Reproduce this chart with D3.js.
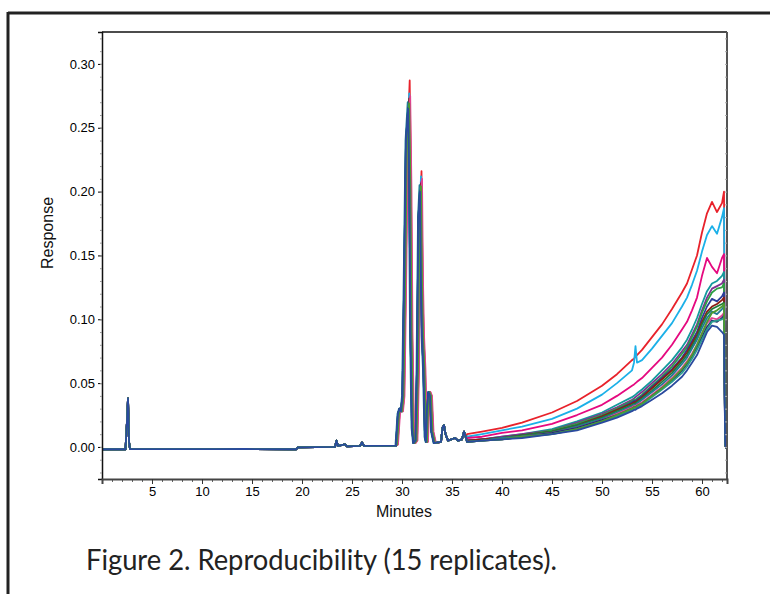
<!DOCTYPE html>
<html>
<head>
  <meta charset="utf-8">
  <title>Figure 2. Reproducibility (15 replicates)</title>
  <style>
    body { margin: 0; background: #fff; }
    svg { display: block; }
  </style>
</head>
<body>
<script src="https://cdn.jsdelivr.net/npm/d3@7"></script>
<script>
// ---- data (minutes, response) ----
var replicates = ["R1","R2","R3","R4","R5","R6","R7","R8","R9","R10","R11","R12","R13","R14","R15"];
var colors = ["#e8222b","#1bb0e8","#e5097f","#139a9c","#7e3191","#2ea043","#2b3d9a","#8c1c13",
              "#1f7a3a","#1f7c95","#e0428f","#25336f","#2a9d8f","#4e9a2f","#2a4a9e"];

// shared early baseline (before the main peak group)
var baselinePoints = [[0,-0.0018],[2.35,-0.0018],[2.5,0.02],[2.6,0.038],[2.7,0.004],[2.8,-0.0016],
  [11.5,-0.0017],[14.3,-0.0016],[19.4,-0.0018],[19.6,-0.0003],[23.3,0.0],[23.45,0.005],[23.6,0.0008],
  [24.3,0.002],[24.5,0.0005],[25.8,0.0008],[26.0,0.0035],[26.2,0.0008],[29.4,0.001]];

// peak group 29.5 - 36.4 ; "p1" and "p2" are the two big apexes (per replicate)
var peakPoints = [[29.5,0.002],[29.7,0.026],[29.85,0.03],[30.0,0.028],[30.15,0.04],[30.3,0.12],[30.5,0.24],
  [30.72,"p1"],[30.85,0.2],[30.95,0.09],[31.1,0.015],[31.25,0.003],
  [31.45,0.005],[31.6,0.06],[31.75,0.18],[31.9,"p2"],[32.0,0.13],[32.1,0.088],[32.25,0.06],[32.4,0.008],[32.5,0.004],
  [32.6,0.03],[32.75,0.043],[32.9,0.04],[33.05,0.012],[33.3,0.003],
  [33.9,0.004],[34.05,0.015],[34.2,0.017],[34.35,0.01],[34.6,0.005],[35.3,0.007],[35.6,0.005],
  [36.0,0.006],[36.2,0.012],[36.4,0.007]];

var apex1 = [0.287,0.277,0.272,0.268,0.270,0.266,0.265,0.273,0.268,0.270,0.275,0.266,0.267,0.269,0.265];
var apex2 = [0.216,0.212,0.208,0.205,0.207,0.203,0.202,0.206,0.204,0.205,0.210,0.201,0.203,0.204,0.200];
var rtShift = [0.05,0.0,0.05,-0.05,0.0,-0.1,-0.1,0.0,-0.05,-0.15,0.1,-0.1,-0.05,0.0,-0.1];

// gradient drift, one row per replicate at these times
var driftTimes = [36.5,38,40,42,45,47.5,50,51.5,53,53.2,53.35,53.5,54,55,56,57,58,58.5,59,59.5,60,60.5,61,61.5,62,62.2];
var drift = [
  [0.010,0.012,0.015,0.019,0.027,0.036,0.048,0.057,0.068,0.069,0.071,0.072,0.076,0.086,0.096,0.108,0.121,0.128,0.139,0.150,0.168,0.183,0.192,0.184,0.191,0.200],
  [0.008,0.010,0.013,0.016,0.022,0.030,0.041,0.050,0.060,0.066,0.079,0.066,0.068,0.077,0.087,0.097,0.110,0.117,0.127,0.138,0.153,0.166,0.173,0.167,0.180,0.187],
  [0.007,0.008,0.011,0.013,0.018,0.025,0.033,0.040,0.048,0.049,0.050,0.051,0.054,0.062,0.070,0.080,0.092,0.098,0.107,0.117,0.134,0.148,0.141,0.136,0.148,0.151],
  [0.005,0.006,0.008,0.010,0.014,0.020,0.027,0.033,0.039,0.040,0.041,0.042,0.045,0.052,0.060,0.068,0.078,0.084,0.092,0.101,0.112,0.122,0.128,0.130,0.134,0.137],
  [0.005,0.006,0.008,0.010,0.013,0.019,0.026,0.031,0.037,0.038,0.039,0.040,0.043,0.050,0.057,0.065,0.075,0.080,0.088,0.096,0.107,0.117,0.124,0.126,0.128,0.131],
  [0.005,0.006,0.007,0.009,0.013,0.018,0.025,0.030,0.036,0.037,0.037,0.038,0.041,0.048,0.055,0.063,0.073,0.078,0.086,0.094,0.105,0.114,0.121,0.124,0.125,0.128],
  [0.005,0.006,0.007,0.009,0.012,0.017,0.024,0.029,0.035,0.036,0.036,0.037,0.040,0.047,0.054,0.061,0.070,0.076,0.083,0.090,0.101,0.110,0.116,0.114,0.118,0.121],
  [0.005,0.006,0.007,0.009,0.012,0.017,0.024,0.029,0.034,0.035,0.035,0.036,0.039,0.046,0.053,0.060,0.069,0.074,0.081,0.088,0.098,0.106,0.110,0.112,0.115,0.117],
  [0.004,0.005,0.007,0.009,0.012,0.017,0.023,0.028,0.033,0.034,0.034,0.035,0.038,0.044,0.051,0.058,0.067,0.072,0.079,0.086,0.096,0.104,0.108,0.110,0.112,0.113],
  [0.004,0.005,0.007,0.008,0.011,0.016,0.022,0.027,0.032,0.033,0.033,0.034,0.037,0.043,0.049,0.056,0.065,0.070,0.077,0.084,0.093,0.101,0.106,0.104,0.108,0.110],
  [0.004,0.005,0.006,0.008,0.011,0.015,0.021,0.026,0.031,0.032,0.032,0.033,0.035,0.041,0.047,0.054,0.062,0.067,0.073,0.080,0.089,0.097,0.101,0.100,0.103,0.105],
  [0.004,0.005,0.006,0.008,0.011,0.015,0.021,0.025,0.030,0.031,0.031,0.032,0.034,0.040,0.046,0.052,0.060,0.065,0.071,0.078,0.086,0.094,0.099,0.098,0.101,0.103],
  [0.004,0.005,0.006,0.008,0.010,0.014,0.020,0.024,0.029,0.030,0.030,0.031,0.033,0.039,0.045,0.051,0.058,0.063,0.069,0.076,0.084,0.092,0.098,0.099,0.100,0.101],
  [0.004,0.005,0.006,0.008,0.010,0.014,0.020,0.025,0.030,0.031,0.031,0.032,0.034,0.040,0.046,0.053,0.061,0.066,0.072,0.080,0.089,0.098,0.105,0.107,0.110,0.112],
  [0.004,0.005,0.006,0.007,0.010,0.013,0.019,0.023,0.028,0.029,0.029,0.030,0.032,0.037,0.042,0.048,0.055,0.060,0.066,0.072,0.081,0.090,0.095,0.094,0.090,0.088]
];

// end of run: signal drops back
var endPoints = [[62.32,0.002],[62.4,-0.0005],[62.5,-0.001]];

var yTicks = [0.00,0.05,0.10,0.15,0.20,0.25,0.30];
var xTicks = [5,10,15,20,25,30,35,40,45,50,55,60];

// ---- layout ----
var W = 770, H = 594;
var margin = { left: 102, right: 727, top: 32, bottom: 479 };

var svg = d3.select("body").append("svg").attr("width", W).attr("height", H);

// outer frame (page border)
svg.append("line").attr("x1", 8).attr("x2", W).attr("y1", 13).attr("y2", 13)
   .attr("stroke", "#222").attr("stroke-width", 3);
svg.append("line").attr("x1", 8).attr("x2", 8).attr("y1", 12).attr("y2", H)
   .attr("stroke", "#222").attr("stroke-width", 3);

var x = d3.scaleLinear().domain([0, 62.5]).range([margin.left, margin.right]);
var y = d3.scaleLinear().domain([-0.0251, 0.325]).range([margin.bottom, margin.top]);

svg.append("clipPath").attr("id", "clip").append("rect")
   .attr("x", margin.left).attr("y", margin.top)
   .attr("width", margin.right - margin.left).attr("height", margin.bottom - margin.top);

// build each trace
var series = replicates.map(function(name, i) {
  var pts = baselinePoints.slice();
  peakPoints.forEach(function(p) {
    var v = p[1] === "p1" ? apex1[i] : p[1] === "p2" ? apex2[i] : p[1];
    var t = p[0] < 33.4 ? p[0] + rtShift[i] : p[0];
    pts.push([t, v]);
  });
  driftTimes.forEach(function(t, j) { pts.push([t, drift[i][j]]); });
  endPoints.forEach(function(p) { pts.push(p); });
  return { name: name, color: colors[i], values: pts };
});

var line = d3.line().x(function(d) { return x(d[0]); }).y(function(d) { return y(d[1]); });

svg.append("g").attr("clip-path", "url(#clip)")
   .selectAll("path").data(series).enter().append("path")
   .attr("d", function(d) { return line(d.values); })
   .attr("fill", "none")
   .attr("stroke", function(d) { return d.color; })
   .attr("stroke-width", 1.8)
   .attr("stroke-linejoin", "round");

// plot box
svg.append("line").attr("x1", margin.left).attr("x2", margin.right).attr("y1", margin.top).attr("y2", margin.top)
   .attr("stroke", "#111").attr("stroke-width", 1.5);
svg.append("line").attr("x1", margin.right).attr("x2", margin.right).attr("y1", margin.top).attr("y2", margin.bottom)
   .attr("stroke", "#555").attr("stroke-width", 2);

// y axis
var yAxis = svg.append("g").attr("transform", "translate(" + margin.left + ",0)")
  .call(d3.axisLeft(y).tickValues(yTicks).tickSize(4).tickPadding(3).tickFormat(d3.format(".2f")));
yAxis.select(".domain").attr("stroke", "#111").attr("stroke-width", 1.5);
yAxis.selectAll("text").attr("font-family", "Liberation Sans, Arial, sans-serif").attr("font-size", 13).attr("fill", "#000");
svg.append("g").attr("transform", "translate(" + margin.left + ",0)")
  .call(d3.axisLeft(y).ticks(35).tickSize(2).tickFormat(""))
  .call(function(g) { g.select(".domain").remove(); g.selectAll("line").attr("stroke", "#999"); });
svg.append("g").attr("transform", "translate(" + margin.right + ",0)")
  .call(d3.axisLeft(y).ticks(35).tickSize(2).tickFormat(""))
  .call(function(g) { g.select(".domain").remove(); g.selectAll("line").attr("stroke", "#aaa"); });

// x axis
svg.append("g").attr("transform", "translate(0," + margin.bottom + ")")
  .call(d3.axisBottom(x).ticks(62).tickSize(3).tickFormat(""))
  .call(function(g) { g.select(".domain").remove(); g.selectAll("line").attr("stroke", "#666"); });
var xAxis = svg.append("g").attr("transform", "translate(0," + margin.bottom + ")")
  .call(d3.axisBottom(x).tickValues(xTicks).tickSize(5).tickPadding(3));
xAxis.select(".domain").attr("stroke", "#444").attr("stroke-width", 2);
xAxis.selectAll("line").attr("stroke", "#333");
xAxis.selectAll("text").attr("font-family", "Liberation Sans, Arial, sans-serif").attr("font-size", 13).attr("fill", "#000");

// axis titles
svg.append("text").attr("transform", "translate(53,233) rotate(-90)")
   .attr("text-anchor", "middle").attr("font-family", "Liberation Sans, Arial, sans-serif")
   .attr("font-size", 16).attr("fill", "#111").text("Response");
svg.append("text").attr("x", 404).attr("y", 517)
   .attr("text-anchor", "middle").attr("font-family", "Liberation Sans, Arial, sans-serif")
   .attr("font-size", 16).attr("fill", "#111").text("Minutes");

// caption
svg.append("text").attr("x", 86).attr("y", 570)
   .attr("font-family", "Lato, sans-serif").attr("font-size", 28).attr("fill", "#222")
   .attr("textLength", 471).attr("lengthAdjust", "spacingAndGlyphs")
   .text("Figure 2. Reproducibility (15 replicates).");
</script>
</body>
</html>
